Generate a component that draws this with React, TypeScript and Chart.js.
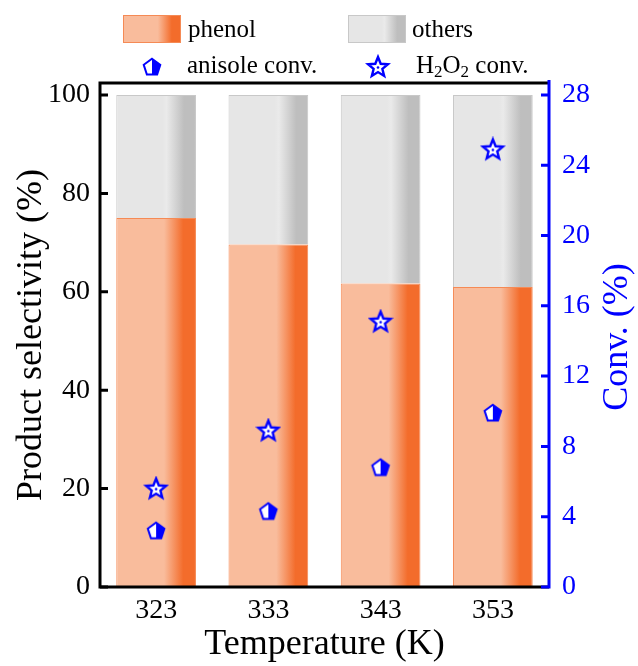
import React, { useEffect, useRef } from 'react';
import { Chart, registerables } from 'chart.js';

Chart.register(...registerables);

// ---------- data ----------
const temperatures = ['323', '333', '343', '353'];
const phenolSelectivity = [75.0, 69.6, 61.7, 61.0];
const othersSelectivity = [25.0, 30.4, 38.3, 39.0];
const anisoleConv = [3.2, 4.3, 6.8, 9.9];
const h2o2Conv = [5.6, 8.9, 15.1, 24.9];
const leftTickValues = [0, 20, 40, 60, 80, 100];
const rightTickValues = [0, 4, 8, 12, 16, 20, 24, 28];

// ---------- style ----------
const FONT = "'Liberation Serif', 'Times New Roman', serif";
const BLUE = '#0000FF';
const BAR_PCT = 0.71;
const PHENOL_LIGHT = '#F9BC9C';
const PHENOL_DARK = '#F36C2B';
const PHENOL_BORDER = '#F58A55';
const OTHERS_LIGHT = '#E6E6E6';
const OTHERS_MID = '#EAEAEA';
const OTHERS_DARK = '#BEBEBE';
const OTHERS_BORDER = '#C8C8C8';
const TICK_SIZE = 28;
const TITLE_SIZE = 36;
const LEGEND_SIZE = 25;

function makeGradient(ctx: CanvasRenderingContext2D, x0: number, x1: number, kind: 'phenol' | 'others') {
  const g = ctx.createLinearGradient(x0, 0, x1, 0);
  if (kind === 'phenol') {
    g.addColorStop(0, PHENOL_LIGHT);
    g.addColorStop(0.6, PHENOL_LIGHT);
    g.addColorStop(0.84, PHENOL_DARK);
    g.addColorStop(1, PHENOL_DARK);
  } else {
    g.addColorStop(0, OTHERS_LIGHT);
    g.addColorStop(0.58, OTHERS_LIGHT);
    g.addColorStop(0.63, OTHERS_MID);
    g.addColorStop(0.85, OTHERS_DARK);
    g.addColorStop(1, OTHERS_DARK);
  }
  return g;
}

function barFill(kind: 'phenol' | 'others') {
  return (c: any) => {
    const chart = c.chart;
    const xs = chart.scales && chart.scales.x;
    if (!xs || c.dataIndex === undefined || !xs.width) return kind === 'phenol' ? PHENOL_LIGHT : OTHERS_LIGHT;
    const center = xs.getPixelForValue(c.dataIndex);
    const w = (xs.width / temperatures.length) * BAR_PCT;
    return makeGradient(chart.ctx, center - w / 2, center + w / 2, kind);
  };
}

function makePentagon(): HTMLCanvasElement {
  const cv = document.createElement('canvas');
  cv.width = 22; cv.height = 22;
  const ctx = cv.getContext('2d')!;
  const cx = 11, cy = 11.5, r = 8.7;
  const pts: [number, number][] = [];
  for (let i = 0; i < 5; i++) {
    const a = -Math.PI / 2 + (i * 2 * Math.PI) / 5;
    pts.push([cx + r * Math.cos(a), cy + r * Math.sin(a)]);
  }
  const path = () => {
    ctx.beginPath();
    pts.forEach((p, i) => (i ? ctx.lineTo(p[0], p[1]) : ctx.moveTo(p[0], p[1])));
    ctx.closePath();
  };
  path();
  ctx.fillStyle = '#FFFFFF';
  ctx.fill();
  ctx.save();
  path();
  ctx.clip();
  ctx.fillStyle = BLUE;
  ctx.fillRect(cx, 0, 22, 22);
  ctx.restore();
  path();
  ctx.strokeStyle = BLUE;
  ctx.lineWidth = 2;
  ctx.lineJoin = 'miter';
  ctx.stroke();
  return cv;
}

function makeStar(): HTMLCanvasElement {
  const cv = document.createElement('canvas');
  cv.width = 26; cv.height = 26;
  const ctx = cv.getContext('2d')!;
  const cx = 13, cy = 13.5, ro = 10.5, ri = 4.6;
  ctx.beginPath();
  for (let i = 0; i < 10; i++) {
    const a = -Math.PI / 2 + (i * Math.PI) / 5;
    const r = i % 2 === 0 ? ro : ri;
    const x = cx + r * Math.cos(a), y = cy + r * Math.sin(a);
    i ? ctx.lineTo(x, y) : ctx.moveTo(x, y);
  }
  ctx.closePath();
  ctx.fillStyle = '#FFFFFF';
  ctx.fill();
  ctx.strokeStyle = BLUE;
  ctx.lineWidth = 2.4;
  ctx.lineJoin = 'miter';
  ctx.stroke();
  ctx.beginPath();
  ctx.arc(cx, cy, 1.3, 0, Math.PI * 2);
  ctx.fillStyle = BLUE;
  ctx.fill();
  return cv;
}

const CHART_TOP = 83;
const LEFT_W = 100;
const RIGHT_W = 89;
const BOTTOM_H = 79;

const framePlugin = {
  id: 'frame',
  afterDraw(chart: any) {
    const { ctx, chartArea } = chart;
    const { left, right, top, bottom } = chartArea;
    const ys = chart.scales.y;
    const y2 = chart.scales.y2;
    ctx.save();
    ctx.lineCap = 'butt';
    ctx.strokeStyle = '#000';
    ctx.lineWidth = 3;
    ctx.beginPath();
    ctx.moveTo(left - 1.5, top); ctx.lineTo(right, top);
    ctx.moveTo(left - 1.5, bottom); ctx.lineTo(right, bottom);
    ctx.moveTo(left, top - 1.5); ctx.lineTo(left, bottom + 1.5);
    ctx.stroke();
    ctx.beginPath();
    leftTickValues.forEach((v) => {
      const p = ys.getPixelForValue(v);
      ctx.moveTo(left, p); ctx.lineTo(left + 8, p);
    });
    ctx.stroke();
    ctx.strokeStyle = BLUE;
    ctx.beginPath();
    ctx.moveTo(right, top - 3); ctx.lineTo(right, bottom + 1.5);
    rightTickValues.forEach((v) => {
      const p = y2.getPixelForValue(v);
      ctx.moveTo(right, p); ctx.lineTo(right - 8, p);
    });
    ctx.stroke();
    ctx.fillStyle = BLUE;
    ctx.font = `${TITLE_SIZE}px ${FONT}`;
    ctx.textAlign = 'center';
    ctx.textBaseline = 'middle';
    ctx.translate(618, (top + bottom) / 2 + 2);
    ctx.rotate(-Math.PI / 2);
    ctx.fillText('Conv. (%)', 0, 0);
    ctx.restore();
  },
};

function makeLegendPlugin(pent: HTMLCanvasElement, star: HTMLCanvasElement) {
  return {
    id: 'customLegend',
    afterDraw(chart: any) {
      const ctx: CanvasRenderingContext2D = chart.ctx;
      ctx.save();
      const font = `${LEGEND_SIZE}px ${FONT}`;
      ctx.font = font;
      ctx.fillStyle = '#000';
      ctx.textBaseline = 'middle';
      ctx.textAlign = 'left';
      const ds = chart.data.datasets;
      const boxes = [
        { x: 123, kind: 'phenol' as const, border: PHENOL_BORDER, tx: 188, label: ds[0].label },
        { x: 348, kind: 'others' as const, border: OTHERS_BORDER, tx: 412, label: ds[1].label },
      ];
      boxes.forEach((b) => {
        ctx.fillStyle = makeGradient(ctx, b.x, b.x + 58, b.kind);
        ctx.fillRect(b.x, 15, 58, 28);
        ctx.strokeStyle = b.border;
        ctx.lineWidth = 1;
        ctx.strokeRect(b.x + 0.5, 15.5, 57, 27);
        ctx.fillStyle = '#000';
        ctx.fillText(b.label, b.tx, 30);
      });
      ctx.drawImage(pent, 152 - pent.width / 2, 67 - pent.height / 2);
      ctx.fillText(ds[2].label, 187, 66);
      ctx.drawImage(star, 378 - star.width / 2, 67 - star.height / 2);
      let x = 416;
      const base = 66;
      const parts: [string, boolean][] = [['H', false], ['2', true], ['O', false], ['2', true], [' conv.', false]];
      parts.forEach(([t, sub]) => {
        ctx.font = sub ? `17px ${FONT}` : font;
        ctx.fillText(t, x, sub ? base + 7 : base);
        x += ctx.measureText(t).width;
      });
      ctx.restore();
    },
  };
}

export default function App() {
  const ref = useRef<HTMLCanvasElement | null>(null);
  useEffect(() => {
    if (!ref.current) return;
    const pent = makePentagon();
    const star = makeStar();
    const chart: any = new Chart(ref.current, {
      type: 'bar',
      data: {
        labels: temperatures,
        datasets: [
          {
            type: 'bar',
            label: 'phenol',
            data: phenolSelectivity,
            yAxisID: 'y',
            stack: 's',
            backgroundColor: barFill('phenol'),
            borderColor: PHENOL_BORDER,
            borderWidth: 1,
            barPercentage: BAR_PCT,
            categoryPercentage: 1,
            order: 2,
          },
          {
            type: 'bar',
            label: 'others',
            data: othersSelectivity,
            yAxisID: 'y',
            stack: 's',
            backgroundColor: barFill('others'),
            borderColor: OTHERS_BORDER,
            borderWidth: 1,
            barPercentage: BAR_PCT,
            categoryPercentage: 1,
            order: 2,
          },
          {
            type: 'line',
            label: 'anisole conv.',
            data: anisoleConv,
            yAxisID: 'y2',
            showLine: false,
            pointStyle: pent as any,
            pointRadius: 10,
            order: 0,
          },
          {
            type: 'line',
            label: 'H2O2 conv.',
            data: h2o2Conv,
            yAxisID: 'y2',
            showLine: false,
            pointStyle: star as any,
            pointRadius: 12,
            order: 0,
          },
        ] as any,
      },
      options: {
        animation: false,
        responsive: false,
        events: [],
        layout: { padding: { top: CHART_TOP, left: 0, right: 0, bottom: 0 } },
        plugins: { legend: { display: false }, tooltip: { enabled: false } },
        scales: {
          x: {
            type: 'category',
            offset: true,
            stacked: true,
            grid: { display: false, drawTicks: false },
            border: { display: false },
            ticks: { color: '#000', font: { family: FONT, size: TICK_SIZE }, padding: 7, maxRotation: 0 },
            title: {
              display: true,
              text: 'Temperature (K)',
              color: '#000',
              font: { family: FONT, size: TITLE_SIZE },
              padding: { top: 0, bottom: 0 },
            },
            afterFit(s: any) { s.height = BOTTOM_H; },
          },
          y: {
            type: 'linear',
            position: 'left',
            stacked: true,
            min: 0,
            max: 102.44,
            grid: { display: false, drawTicks: false },
            border: { display: false },
            ticks: { stepSize: 20, color: '#000', font: { family: FONT, size: TICK_SIZE }, padding: 10 },
            afterBuildTicks(s: any) { s.ticks = leftTickValues.map((v) => ({ value: v })); },
            title: {
              display: true,
              text: 'Product selectivity (%)',
              color: '#000',
              font: { family: FONT, size: TITLE_SIZE },
              padding: { top: 10, bottom: 0 },
            },
            afterFit(s: any) { s.width = LEFT_W; },
          },
          y2: {
            type: 'linear',
            position: 'right',
            min: 0,
            max: 28.68,
            grid: { display: false, drawTicks: false },
            border: { display: false },
            ticks: { stepSize: 4, color: BLUE, font: { family: FONT, size: TICK_SIZE }, padding: 13 },
            afterBuildTicks(s: any) { s.ticks = rightTickValues.map((v) => ({ value: v })); },
            afterFit(s: any) { s.width = RIGHT_W; },
          },
        },
      } as any,
      plugins: [framePlugin, makeLegendPlugin(pent, star)],
    });
    return () => chart.destroy();
  }, []);
  return (
    <div style={{ position: 'absolute', left: 0, top: 0, width: 638, height: 666, background: '#fff' }}>
      <canvas ref={ref} width={638} height={666} style={{ display: 'block' }} />
    </div>
  );
}
